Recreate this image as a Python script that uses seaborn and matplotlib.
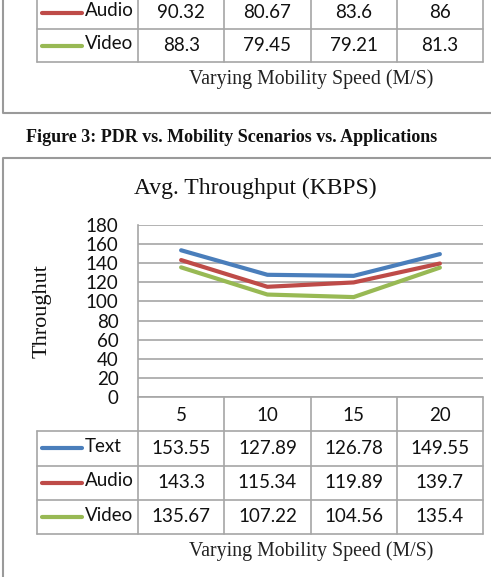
"""
Avg. Throughput vs. mobility speed, Excel-style chart with data table
"""

import numpy as np
import pandas as pd
import matplotlib
matplotlib.use('Agg')
import matplotlib.pyplot as plt
from matplotlib.lines import Line2D
import seaborn as sns

# Data
speeds = ['5', '10', '15', '20']
apps = ['Text', 'Audio', 'Video']
throughput_text = [153.55, 127.89, 126.78, 149.55]
throughput_audio = [143.3, 115.34, 119.89, 139.7]
throughput_video = [135.67, 107.22, 104.56, 135.4]

# rows visible from the previous (PDR) figure
pdr_apps = ['Audio', 'Video']
pdr_audio = ['90.32', '80.67', '83.6', '86']
pdr_video = ['88.3', '79.45', '79.21', '81.3']

colors = {'Text': '#4A7EBB', 'Audio': '#BE4B48', 'Video': '#98B954'}
W, H = 491, 577
SERIF = 'Liberation Serif'
SANS = 'Lato'
GRID = '#A6A6A6'
FS = 13.5


def fx(px):
    return px / W


def fy(px):
    return 1 - px / H


def draw_table(ax, row_names, rows, header=None):
    """Table in data coords: columns 0..4, label column to the left"""
    n = len(rows)
    ax.set_xlim(LABEL_X0, 4)
    top = n + (1 if header is not None else 0)
    ax.set_ylim(0, top)
    ax.axis('off')
    kw = dict(color=GRID, lw=1.2, clip_on=False)
    # horizontal lines
    for r in range(n + 1):
        ax.plot([LABEL_X0, 4], [r, r], **kw)
    if header is not None:
        ax.plot([0, 4], [top, top], **kw)
    # vertical lines
    ax.plot([LABEL_X0, LABEL_X0], [0, n], **kw)
    for c in range(5):
        ax.plot([c, c], [0, top], **kw)
    if header is not None:
        for c, h in enumerate(header):
            ax.text(c + 0.5, n + 0.45, h, ha='center', va='center',
                    fontsize=FS, family=SANS, color='#111111')
    for i, (name, vals) in enumerate(zip(row_names, rows)):
        yc = n - i - 0.5
        ax.plot([LEG_X0, LEG_X1], [yc, yc], color=colors[name], lw=3,
                solid_capstyle='round')
        ax.text(LEG_X1 + 0.03, yc + 0.05, name, ha='left', va='center',
                fontsize=FS, family=SANS, color='#111111')
        for c, v in enumerate(vals):
            ax.text(c + 0.5, yc, str(v), ha='center', va='center',
                    fontsize=FS, family=SANS, color='#111111')


# column geometry (pixels): plot area 138..483, label column from 37
COL_W = (483 - 138) / 4
LABEL_X0 = (37 - 138) / COL_W
LEG_X0 = (42 - 138) / COL_W
LEG_X1 = (82 - 138) / COL_W

sns.set_theme(style='white')
plt.rcParams['font.family'] = [SANS, 'DejaVu Sans']
fig = plt.figure(figsize=(W / 100, H / 100), dpi=100)
fig.patch.set_facecolor('white')

# frames of the two chart boxes
fig.add_artist(Line2D([fx(3), fx(3), fx(495)], [fy(-5), fy(113), fy(113)],
                      transform=fig.transFigure, color='#9A9A9A', lw=1.5))
fig.add_artist(Line2D([fx(495), fx(3), fx(3)], [fy(158), fy(158), fy(585)],
                      transform=fig.transFigure, color='#9A9A9A', lw=1.5))

# previous figure: bottom of its table
ax_top = fig.add_axes([fx(37), fy(62), fx(483 - 37), (62 + 4) / H])
draw_table(ax_top, pdr_apps, [pdr_audio, pdr_video])
fig.text(fx(311), fy(79), 'Varying Mobility Speed (M/S)', ha='center',
         va='center', fontsize=14.3, family=SERIF, color='#222222')
fig.text(fx(26), fy(137), 'Figure 3: PDR vs. Mobility Scenarios vs. Applications',
         ha='left', va='center', fontsize=13, family=SERIF,
         fontweight='bold', color='#111111')

# throughput chart
ax = fig.add_axes([fx(138), fy(397), fx(483 - 138), (397 - 225) / H])
df = pd.DataFrame({
    'pos': np.tile(np.arange(len(speeds)) + 0.5, len(apps)),
    'value': throughput_text + throughput_audio + throughput_video,
    'app': np.repeat(apps, len(speeds)),
})
sns.lineplot(data=df, x='pos', y='value', hue='app', palette=colors,
             linewidth=3, legend=False, ax=ax)
ax.set_xlim(0, 4)
ax.set_ylim(0, 180)
ax.set_yticks(range(0, 181, 20))
ax.set_xticks([])
ax.set_xlabel('')
ax.set_ylabel('')
ax.grid(axis='y', color=GRID, lw=1.2)
for s in ['top', 'right', 'bottom']:
    ax.spines[s].set_visible(False)
ax.spines['left'].set_color(GRID)
ax.spines['left'].set_linewidth(1.2)
ax.tick_params(axis='y', length=0, pad=14, labelsize=FS, labelcolor='#111111')
for t in ax.get_yticklabels():
    t.set_family(SANS)

fig.text(fx(255), fy(188), 'Avg. Throughput (KBPS)', ha='center', va='center',
         fontsize=17, family=SERIF, color='#111111')
fig.text(fx(42), fy(311), 'Throughut', ha='center', va='center', rotation=90,
         fontsize=16, family=SERIF, color='#111111')

ax_tab = fig.add_axes([fx(37), fy(534), fx(483 - 37), (534 - 397) / H])
draw_table(ax_tab, apps, [throughput_text, throughput_audio, throughput_video],
           header=speeds)
fig.text(fx(311), fy(551), 'Varying Mobility Speed (M/S)', ha='center',
         va='center', fontsize=14.3, family=SERIF, color='#222222')

fig.savefig('out.png', dpi=100)
plt.close(fig)
